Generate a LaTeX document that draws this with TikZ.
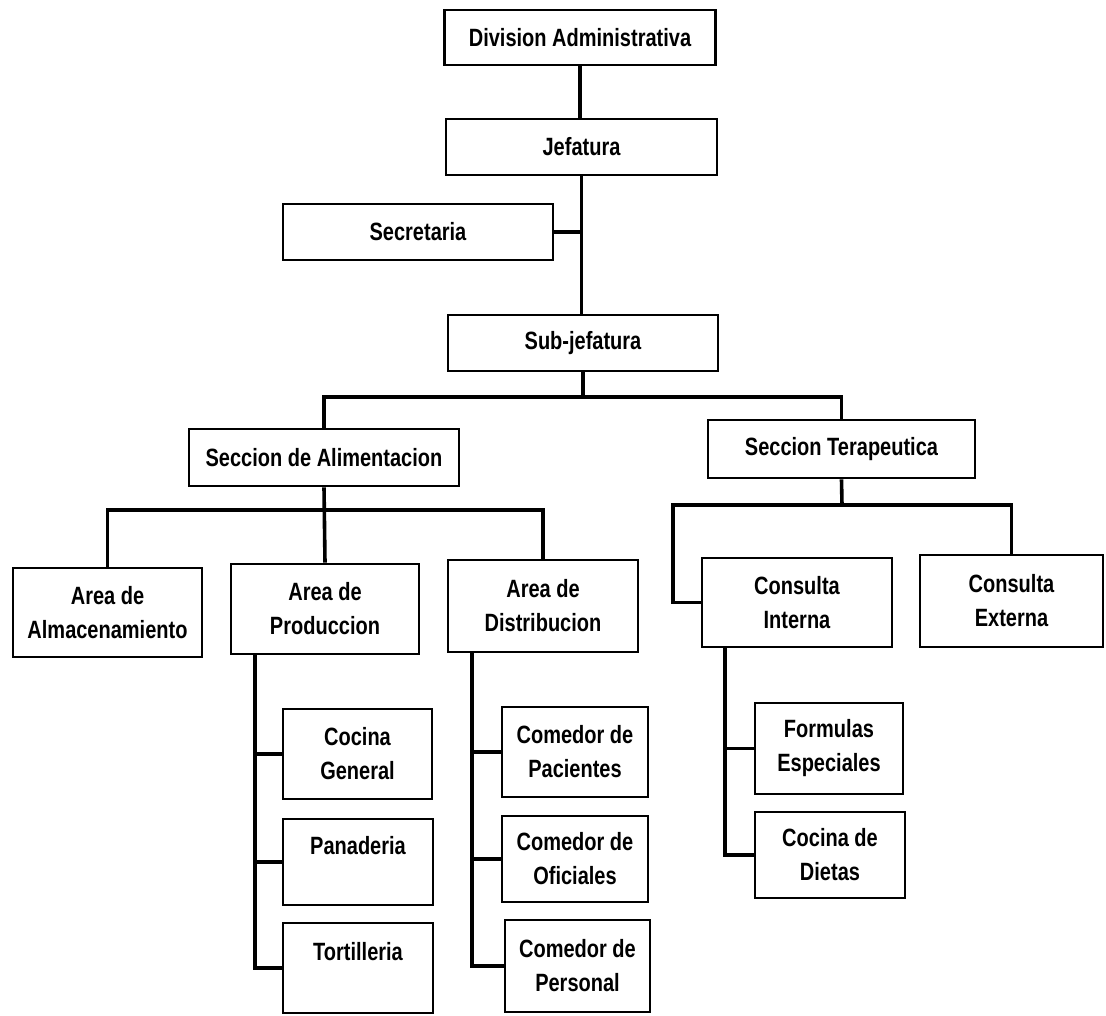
\documentclass[tikz,border=0pt]{standalone}
\usepackage{fontspec}
\setmainfont{Liberation Sans}[FakeStretch=0.8]
\begin{document}
\begin{tikzpicture}[x=1pt, y=-1pt,
  box/.style = {draw = black, line width = 2.8pt, inner sep = 0pt, align = center,
                font = \fontsize{25}{34}\selectfont\bfseries},
  wire/.style = {draw = black, line width = 3.6pt}]
\useasboundingbox (0,0) rectangle (1106,1015);
% upper levels
\node[box, minimum width = 271pt, minimum height = 55pt] (divadm) at (580,37.5) {Division Administrativa};
\node[box, minimum width = 271pt, minimum height = 56pt] (jefatura) at (581.5,147) {Jefatura};
\node[box, minimum width = 270pt, minimum height = 56pt] (secretaria) at (418,232) {Secretaria};
\node[box, minimum width = 270pt, minimum height = 56pt] (subjef) at (583,343) {Sub-jefatura};
\node[box, minimum width = 270pt, minimum height = 57pt] (secalim) at (324,457.5) {Seccion de Alimentacion};
\node[box, minimum width = 267pt, minimum height = 58pt] (secter) at (841.5,449) {Seccion Terapeutica};
% areas
\node[box, minimum width = 189pt, minimum height = 89pt] (almac) at (107.5,612.5) {Area de\\Almacenamiento};
\node[box, minimum width = 188pt, minimum height = 90pt] (produc) at (325,609) {Area de\\Produccion};
\node[box, minimum width = 190pt, minimum height = 92pt] (distrib) at (543,606) {Area de\\Distribucion};
\node[box, minimum width = 190pt, minimum height = 89pt] (consint) at (797,602.5) {Consulta\\Interna};
\node[box, minimum width = 183pt, minimum height = 92pt] (consext) at (1011.5,601) {Consulta\\Externa};
% units
\node[box, minimum width = 149pt, minimum height = 90pt] (cocgen) at (357.5,754) {Cocina\\General};
\node[box, minimum width = 150pt, minimum height = 86pt] (panad) at (358,862) {Panaderia\\\mbox{}};
\node[box, minimum width = 150pt, minimum height = 90pt] (tortil) at (358,968) {Tortilleria\\\mbox{}};
\node[box, minimum width = 146pt, minimum height = 90pt] (compac) at (575,752) {Comedor de\\Pacientes};
\node[box, minimum width = 146pt, minimum height = 86pt] (comofi) at (575,859) {Comedor de\\Oficiales};
\node[box, minimum width = 145pt, minimum height = 92pt] (comper) at (577.5,966) {Comedor de\\Personal};
\node[box, minimum width = 148pt, minimum height = 91pt] (formul) at (829,748.5) {Formulas\\Especiales};
\node[box, minimum width = 150pt, minimum height = 86pt] (cocdiet) at (830,855) {Cocina de\\Dietas};
% bus points
\coordinate (busA) at (583,397);
\coordinate (busB) at (324,510);
\coordinate (busC) at (842,505);
\coordinate (elbow) at (673,505);
% connectors
\draw[wire] (divadm.south) -- (divadm.south |- jefatura.north);
\draw[wire] (jefatura.south) -- (jefatura.south |- subjef.north);
\draw[wire] (secretaria.east) -- (secretaria.east -| jefatura.south);
\draw[wire] (subjef.south) -- (busA);
\draw[wire] (secalim.north) |- (busA) -| (secter.north);
\draw[wire] (secalim.south) -- (produc.north);
\draw[wire] (almac.north) |- (busB) -| (distrib.north);
\draw[wire] (secter.south) -- (busC);
\draw[wire] (consint.west) -| (elbow) -- (busC) -| (consext.north);
\foreach \n in {cocgen,panad,tortil} \draw[wire] ([xshift=-70pt]produc.south) |- (\n.west);
\foreach \n in {compac,comofi,comper} \draw[wire] ([xshift=-71pt]distrib.south) |- (\n.west);
\foreach \n in {formul,cocdiet} \draw[wire] ([xshift=-72pt]consint.south) |- (\n.west);
\end{tikzpicture}
\end{document}
